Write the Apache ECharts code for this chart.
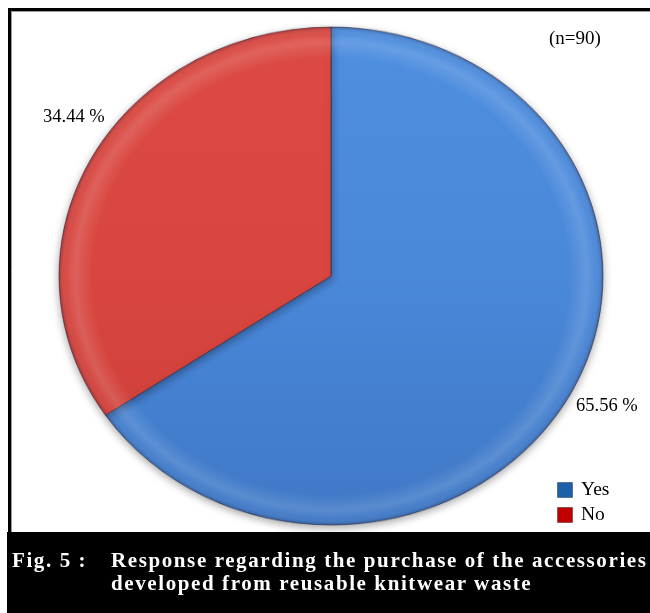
<!DOCTYPE html>
<html>
<head>
<meta charset="utf-8">
<script src="https://cdn.jsdelivr.net/npm/echarts@6/dist/echarts.min.js"></script>
<style>
  html, body { margin: 0; padding: 0; background: #fff; width: 650px; height: 613px; overflow: hidden; }
  /* the pie is drawn round and squeezed vertically into an ellipse */
  #pie { position: absolute; left: 0; top: 0; width: 650px; height: 613px;
         transform: scaleY(0.9154); transform-origin: 0 276px; }
  #overlay { position: absolute; left: 0; top: 0; width: 650px; height: 613px; }
  .cap { position: absolute; color: #fff; font: bold 21px 'Liberation Serif', 'Times New Roman', serif;
         letter-spacing: 1.6px; line-height: 23px; white-space: nowrap; }
</style>
</head>
<body>
<div id="pie"></div>
<div id="overlay"></div>
<div class="cap" style="left:12px;top:549px;">Fig. 5 :</div>
<div class="cap" style="left:111px;top:549px;">Response regarding the purchase of the accessories<br>developed from reusable knitwear waste</div>
<script>
// Response shares (percent of respondents)
const categories = ['Yes', 'No'];
const values = [65.56, 34.44];
const sampleSize = 90;
const sliceColors = ['#4a88d9', '#d8463f'];
const legendColors = ['#1e5fa9', '#c00000'];

const C = [331, 276];
const R = 272;

function sliceFill(base, hi, lo) {
  return new echarts.graphic.LinearGradient(0, C[1] - R, 0, C[1] + R, [
    { offset: 0, color: hi },
    { offset: 0.5, color: base },
    { offset: 1, color: lo }
  ], true);
}

const pie = echarts.init(document.getElementById('pie'), null, { renderer: 'canvas' });
pie.setOption({
  animation: false,
  series: [
    {
      type: 'pie',
      center: C,
      radius: R,
      startAngle: 90,
      clockwise: true,
      silent: true,
      label: { show: false },
      labelLine: { show: false },
      itemStyle: {
        borderColor: 'rgba(50,30,40,0.55)',
        borderWidth: 1,
        shadowBlur: 10,
        shadowColor: 'rgba(0,0,0,0.35)',
        shadowOffsetY: 3
      },
      data: categories.map((c, i) => ({
        name: c,
        value: values[i],
        itemStyle: {
          color: i === 0
            ? sliceFill(sliceColors[0], '#4f8fe0', '#3f78c6')
            : sliceFill(sliceColors[1], '#dc4a43', '#cc3d38')
        }
      }))
    },
    {
      // bevelled rim
      type: 'pie',
      center: C,
      radius: [238, R],
      startAngle: 90,
      clockwise: true,
      silent: true,
      label: { show: false },
      labelLine: { show: false },
      itemStyle: {
        borderWidth: 0,
        color: new echarts.graphic.RadialGradient(C[0], C[1], R, [
          { offset: 0, color: 'rgba(255,255,255,0)' },
          { offset: 0.875, color: 'rgba(255,255,255,0)' },
          { offset: 0.94, color: 'rgba(255,255,255,0.14)' },
          { offset: 0.975, color: 'rgba(255,255,255,0.04)' },
          { offset: 1, color: 'rgba(0,0,30,0.2)' }
        ], true)
      },
      data: categories.map((c, i) => ({ name: c, value: values[i] }))
    }
  ]
});

const overlay = echarts.init(document.getElementById('overlay'), null, { renderer: 'canvas' });
const serif = "'Liberation Serif', 'Times New Roman', serif";
const fmt = v => v.toFixed(2) + ' %';

const legendItems = categories.flatMap((c, i) => [
  { type: 'rect', shape: { x: 557.5, y: 482.5 + i * 25, width: 15, height: 15 },
    style: { fill: legendColors[i], stroke: 'rgba(0,0,0,0.35)', lineWidth: 1 } },
  { type: 'text', x: 581, y: 490 + i * 25,
    style: { text: c, font: '19.5px ' + serif, fill: '#000', textVerticalAlign: 'middle' } }
]);

overlay.setOption({
  animation: false,
  graphic: [
    // frame
    { type: 'line', shape: { x1: 8, y1: 9.5, x2: 650, y2: 9.5 }, style: { stroke: '#000', lineWidth: 3 } },
    { type: 'line', shape: { x1: 9.5, y1: 8, x2: 9.5, y2: 533 }, style: { stroke: '#000', lineWidth: 3 } },
    { type: 'line', shape: { x1: 11, y1: 11.5, x2: 650, y2: 11.5 }, style: { stroke: '#999', lineWidth: 1 } },
    { type: 'line', shape: { x1: 11.5, y1: 11, x2: 11.5, y2: 532 }, style: { stroke: '#999', lineWidth: 1 } },
    // caption band
    { type: 'rect', shape: { x: 7, y: 532, width: 643, height: 81 }, style: { fill: '#000' } },
    { type: 'text', x: 549, y: 39,
      style: { text: '(n=' + sampleSize + ')', font: '19px ' + serif, fill: '#000', textVerticalAlign: 'middle' } },
    { type: 'text', x: 43, y: 117,
      style: { text: fmt(values[1]), font: '18.5px ' + serif, fill: '#000', textVerticalAlign: 'middle' } },
    { type: 'text', x: 576, y: 406,
      style: { text: fmt(values[0]), font: '18.5px ' + serif, fill: '#000', textVerticalAlign: 'middle' } }
  ].concat(legendItems)
});
</script>
</body>
</html>
